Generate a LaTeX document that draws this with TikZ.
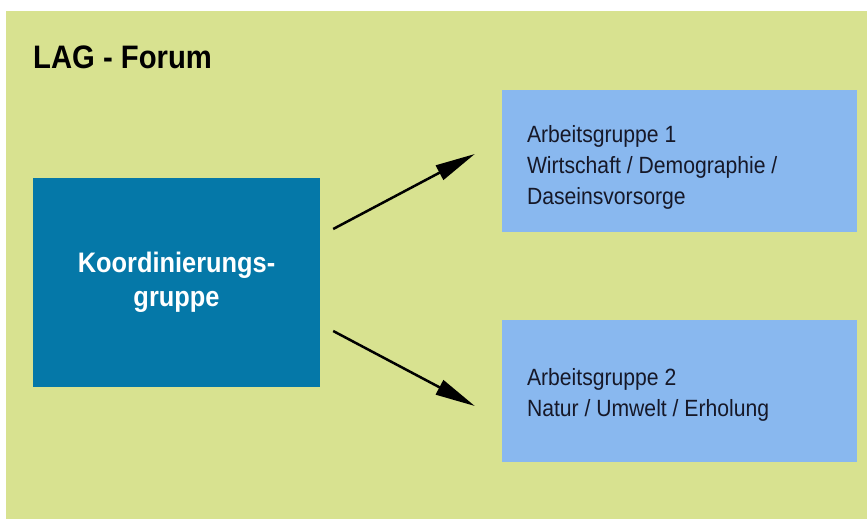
\documentclass[tikz,border=0pt]{standalone}
\usepackage{fontspec}
\setmainfont[FakeStretch=0.9]{Liberation Sans}
\usetikzlibrary{positioning,calc,arrows.meta}
\definecolor{lagbg}{RGB}{216,226,144}
\definecolor{kgblue}{RGB}{5,120,168}
\definecolor{agblue}{RGB}{137,184,239}
\definecolor{agtext}{RGB}{22,24,40}

\begin{document}
\begin{tikzpicture}[x=1pt,y=-1pt]
\tikzstyle{kgbox}=[fill=kgblue,minimum width=287pt,minimum height=209pt,text=white,align=center,font=\fontsize{28.2}{33.5}\selectfont\bfseries];
\tikzstyle{agbox}=[fill=agblue,minimum width=355pt,minimum height=142pt];
\tikzstyle{agtxt}=[anchor=north west,inner sep=0pt,align=left,text=agtext,font=\fontsize{23.5}{31}\selectfont];
\tikzstyle{pfeil}=[line width=2.5pt,-{Triangle[length=40pt,width=16pt]}];

\fill[white] (0,0) rectangle (867,519);
\fill[lagbg] (6,11) rectangle (867,519);

\node[anchor=base west,inner sep=0pt,font=\fontsize{32.5}{38}\selectfont\bfseries] (titel) at (33,69) {LAG - Forum};

\node[kgbox] (kg) at (176.5,282.5) {Koordinierungs-\\gruppe};
\node[agbox] (ag1) at (679.5,161) {};
\node[agbox] (ag2) at (679.5,391) {};
\node[agtxt] (ag1t) at ($(ag1.north west)+(25,35)$) {Arbeitsgruppe 1\\Wirtschaft / Demographie /\\Daseinsvorsorge};
\node[agtxt] (ag2t) at ($(ag2.north west)+(25,48)$) {Arbeitsgruppe 2\\Natur / Umwelt / Erholung};

% Pfeile
\coordinate (s1) at ($(kg.east)+(13,-53.5)$);
\coordinate (e1) at ($(ag1.west)+(-27,-7)$);
\coordinate (s2) at ($(kg.east)+(13,48.5)$);
\coordinate (e2) at ($(ag2.west)+(-27,15)$);
\draw[pfeil] (s1) -- (e1);
\draw[pfeil] (s2) -- (e2);

\end{tikzpicture}
\end{document}
